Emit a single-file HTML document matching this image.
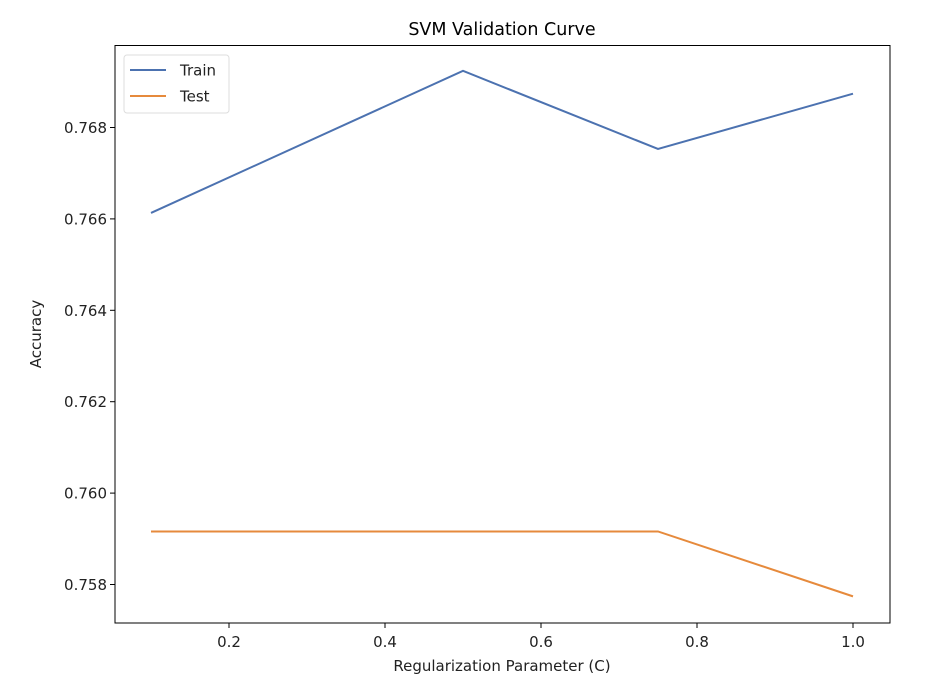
<!DOCTYPE html>
<html><head><meta charset="utf-8"><style>
body{margin:0;background:#fff;}
svg{display:block;font-family:"DejaVu Sans","Liberation Sans",sans-serif;}
</style></head><body>
<svg id="chart" width="941" height="693"></svg>
<script>
const xValues=[0.1,0.5,0.75,1.0];
const trainValues=[0.76613,0.76924,0.76753,0.76874];
const testValues=[0.75916,0.75916,0.75916,0.75774];
const xTicks=[0.2,0.4,0.6,0.8,1.0];
const yTicks=[0.758,0.760,0.762,0.764,0.766,0.768];
const L=115,R=890,T=45.5,B=623;
const xs=v=>229+(v-0.2)*780;
const ys=v=>127.5-(v-0.768)*45700;
const svg=document.getElementById('chart');
const NS='http://www.w3.org/2000/svg';
function mk(t,a,p){const e=document.createElementNS(NS,t);for(const k in a)e.setAttribute(k,a[k]);(p||svg).appendChild(e);return e;}
const title=mk('text',{x:502,y:35,'text-anchor':'middle','font-size':17.5,fill:'#000'});title.textContent='SVM Validation Curve';


xTicks.forEach(v=>{const x=xs(v);
 const tk=mk('line',{x1:x,x2:x,y1:B,y2:B+5,stroke:'#000','stroke-width':1});
 
 
 const t=mk('text',{x:x,y:B+24,'text-anchor':'middle','font-size':15,fill:'#222'});t.textContent=v.toFixed(1);
 
 });
yTicks.forEach(v=>{const y=ys(v);
 const tk=mk('line',{x1:L-5,x2:L,y1:y,y2:y,stroke:'#000','stroke-width':1});
 
 
 const t=mk('text',{x:L-8,y:y+5.5,'text-anchor':'end','font-size':15,fill:'#222'});t.textContent=v.toFixed(3);
 
 });
const xl=mk('text',{x:502,y:671,'text-anchor':'middle','font-size':15,fill:'#222'});xl.textContent='Regularization Parameter (C)';


const yl=mk('text',{x:0,y:0,'text-anchor':'middle','font-size':15,fill:'#222',transform:'translate(41,334) rotate(-90)'});yl.textContent='Accuracy';


function line(vals,color,name){const p=mk('polyline',{points:xValues.map((x,i)=>xs(x)+','+ys(vals[i])).join(' '),fill:'none',stroke:color,'stroke-width':2});
 
 }
line(trainValues,'#4c72b0','train-line');
line(testValues,'#e68a3c','test-line');
const frame=mk('rect',{x:L,y:T,width:R-L,height:B-T,fill:'none',stroke:'#000','stroke-width':1});


const g=mk('g',{});


mk('rect',{x:124,y:55,width:105,height:58,rx:3,fill:'#fff',stroke:'#ddd'},g);
[['Train','#4c72b0',70],['Test','#e68a3c',96]].forEach(([n,c,y])=>{
 mk('line',{x1:130,x2:166,y1:y,y2:y,stroke:c,'stroke-width':2},g);
 const t=mk('text',{x:180,y:y+5.5,'font-size':15,fill:'#222'},g);t.textContent=n;
 
 });
</script>
</body></html>
